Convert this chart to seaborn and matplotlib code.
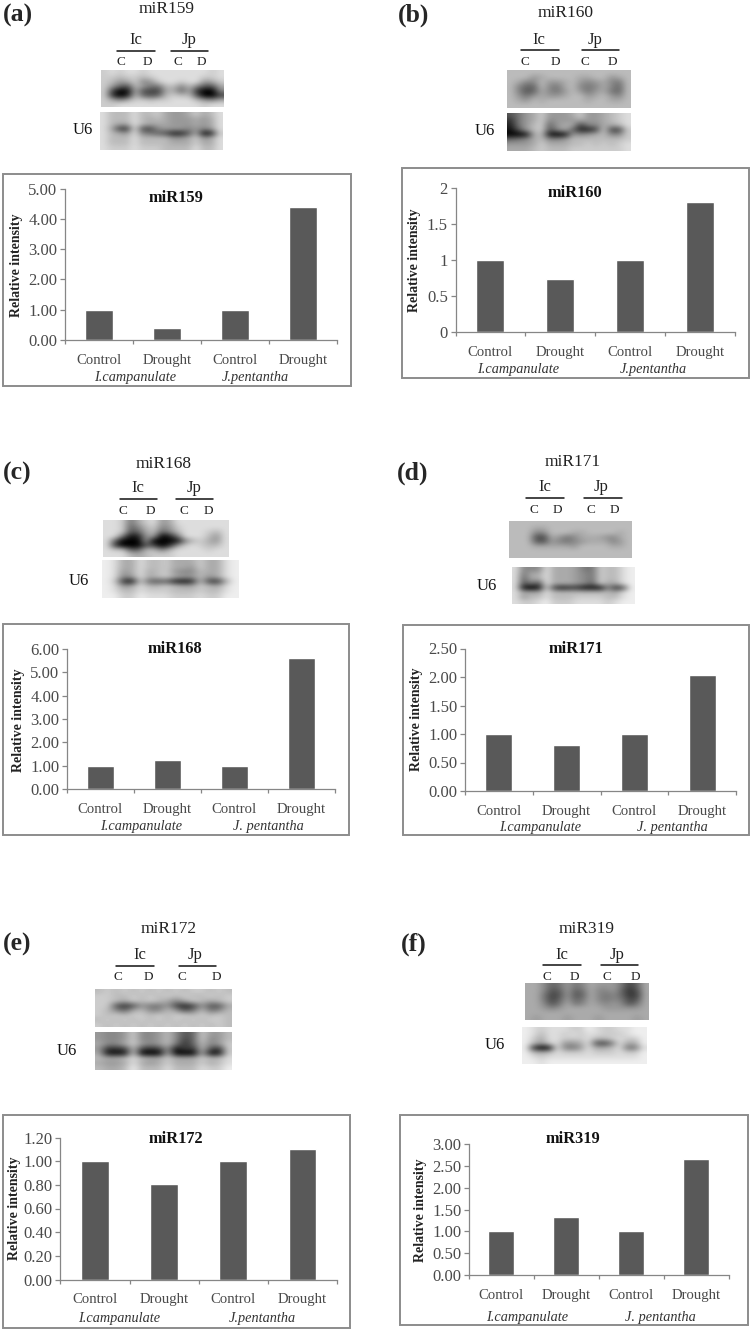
"""miRNA blots and relative intensity bars, six panels."""

import matplotlib

matplotlib.use("Agg")

import matplotlib.pyplot as plt
import numpy as np
import seaborn as sns
from matplotlib.patches import Rectangle

WIDTH, HEIGHT = 752, 1330

# chart data
CONDITIONS = ["Ic control", "Ic drought", "Jp control", "Jp drought"]
BAR_LABELS = ["Control", "Drought", "Control", "Drought"]
IC_SPECIES = "I.campanulate"
JP_TIGHT = "J.pentantha"
JP_SPACED = "J. pentantha"
MIRNAS = ["miR159", "miR160", "miR168", "miR171", "miR172", "miR319"]
LETTERS = ["(a)", "(b)", "(c)", "(d)", "(e)", "(f)"]

MIR159 = [1.00, 0.40, 1.00, 4.40]
MIR160 = [1.00, 0.74, 1.00, 1.80]
MIR168 = [1.00, 1.23, 1.00, 5.60]
MIR171 = [1.00, 0.80, 1.00, 2.03]
MIR172 = [1.00, 0.81, 1.00, 1.10]
MIR319 = [1.00, 1.32, 1.00, 2.66]

TICKS_A = [0, 1, 2, 3, 4, 5]
TICKS_B = [0, 0.5, 1, 1.5, 2]
TICKS_C = [0, 1, 2, 3, 4, 5, 6]
TICKS_D = [0, 0.5, 1, 1.5, 2, 2.5]
TICKS_E = [0, 0.2, 0.4, 0.6, 0.8, 1.0, 1.2]
TICKS_F = [0, 0.5, 1, 1.5, 2, 2.5, 3]

# blot darkness, one hex digit per cell (0 white, f black)
BLOT_A_TOP = [
    "3232232222222232",
    "3343343222222332",
    "3465376322322653",
    "369a468844747aa5",
    "3bfe5abb5595cff7",
    "3cfd49a94344affb",
    "3575334332224675",
    "3322222222222322",
]
BLOT_A_U6 = [
    "2444244356653542",
    "2444245456665652",
    "2455245556665652",
    "25bc2ab766676762",
    "24562789adda5ed3",
    "2444244446653652",
    "2444244445553552",
    "2333233344442442",
]
BLOT_B_TOP = [
    "4444444444444444",
    "4446544445544654",
    "4577466546765784",
    "4799478547875794",
    "47a9578646865894",
    "4686566544654674",
    "4564544444544554",
    "4444444444444444",
]
BLOT_B_U6 = [
    "a865366653665432",
    "c865376665665432",
    "d86439655b775542",
    "ea643a759ddb3bb3",
    "ffe54efe67654773",
    "9875477644444443",
    "6665355544343432",
    "5554344433333332",
]
BLOT_C_TOP = [
    "2238532652222222",
    "2239743763222222",
    "223a954974222342",
    "228ed66fd8222462",
    "29fff6fffe743562",
    "2bfffabfc6323442",
    "2339944742222322",
    "2224543332222222",
]
BLOT_C_U6 = [
    "1255244355535521",
    "1255244355635521",
    "1265254367745521",
    "1276254356646521",
    "13ce39a9ded4bc51",
    "1265244345534521",
    "1244233344434421",
    "1133122233323311",
]
BLOT_D_TOP = [
    "4444444444444444",
    "4445544444444444",
    "4447744455444454",
    "444ab56875556754",
    "4449a67876555764",
    "4445555564444554",
    "4444444444444444",
    "4444444444444444",
]
BLOT_D_U6 = [
    "2777255568834421",
    "2855255567834421",
    "2955255567834421",
    "2a8a255567935521",
    "2efe3bdcceee7ca1",
    "2555244444444521",
    "2644244433334421",
    "2332133322223211",
]
BLOT_E_TOP = [
    "4343434343433434",
    "3344343434344343",
    "3345343457534543",
    "33aca6886bdb6aa5",
    "3479547746a84874",
    "3434334343343434",
    "4343434343434334",
    "3434343434343434",
]
BLOT_E_U6 = [
    "6776377647a93664",
    "6776377647b93764",
    "5775367648c94763",
    "6ccb4bcb6ebc4ac3",
    "5eee3fff5fff5ee3",
    "4554245535553442",
    "5665256535553542",
    "4554144424442331",
]
BLOT_F_TOP = [
    "5579868756668b95",
    "557a969857769ca5",
    "558ba6a957879cb5",
    "558b969857878ba5",
    "557a858756767a85",
    "5567655555666665",
    "5555555555555555",
    "5655565556555565",
]
BLOT_F_U6 = [
    "1232223312332211",
    "1242232322333211",
    "1352233324432331",
    "146326652ab82551",
    "1cfe278625542882",
    "1454233323332331",
    "1232222222222221",
    "1121111111111111",
]

# panel layout in picture pixels
PANELS = [
    dict(values=MIR159, ticks=TICKS_A, decimals=2, frame=(3, 174, 351, 386),
         axes=(65, 188.7, 337, 340), letter=(3, 15), blot_title=(167, 9),
         chart_title=(176.5, 198), ylabel=(17, 265), species_y=377, species_x=(135.5, 255.5),
         jp_name=JP_TIGHT,
         ic=(136, 39.7), jp=(188.7, 39.7), ic_line=(117, 155), jp_line=(171, 208), line_y=50.7,
         cd_x=(120.7, 147.7, 178, 201.7), cd_y=62.3, u6=(82.7, 130),
         top=BLOT_A_TOP, top_box=(101, 70, 224, 107), u6_blot=BLOT_A_U6, u6_box=(100, 112, 223, 150)),
    dict(values=MIR160, ticks=TICKS_B, decimals=None, frame=(402, 168, 749, 378),
         axes=(455.5, 187.7, 735, 332), letter=(397.7, 15), blot_title=(565.7, 13),
         chart_title=(574.8, 192.7), ylabel=(414.7, 260.5), species_y=369, species_x=(517.7, 653),
         jp_name=JP_TIGHT,
         ic=(539.3, 39.7), jp=(595, 39.7), ic_line=(520.7, 558.7), jp_line=(581.7, 619), line_y=50.3,
         cd_x=(524.7, 555.3, 585.3, 612.7), cd_y=62, u6=(485.3, 131),
         top=BLOT_B_TOP, top_box=(507, 70, 631, 108), u6_blot=BLOT_B_U6, u6_box=(507, 113, 631, 151)),
    dict(values=MIR168, ticks=TICKS_C, decimals=2, frame=(3, 624, 349, 835),
         axes=(67, 649, 335, 789), letter=(3, 473), blot_title=(163.5, 464),
         chart_title=(175, 649), ylabel=(19, 720), species_y=826.7, species_x=(141.3, 268),
         jp_name=JP_SPACED,
         ic=(138.3, 488.3), jp=(194, 488.3), ic_line=(120, 157.3), jp_line=(176, 213.3), line_y=499.3,
         cd_x=(123.3, 150.7, 184, 208), cd_y=511, u6=(79.3, 580.7),
         top=BLOT_C_TOP, top_box=(103, 520, 228, 557), u6_blot=BLOT_C_U6, u6_box=(102, 560, 239, 598)),
    dict(values=MIR171, ticks=TICKS_D, decimals=2, frame=(403, 625, 749, 835),
         axes=(465, 648.5, 736, 791), letter=(397, 473), blot_title=(572.7, 461.7),
         chart_title=(576, 649), ylabel=(416.7, 719.5), species_y=828, species_x=(539.7, 672),
         jp_name=JP_SPACED,
         ic=(545, 487.3), jp=(601, 487.3), ic_line=(526.3, 563.7), jp_line=(584.3, 621.7), line_y=498,
         cd_x=(533.7, 557.3, 591, 614.7), cd_y=509.7, u6=(487.3, 585.7),
         top=BLOT_D_TOP, top_box=(509, 521, 632, 558), u6_blot=BLOT_D_U6, u6_box=(512, 567, 635, 604)),
    dict(values=MIR172, ticks=TICKS_E, decimals=2, frame=(3, 1115, 350, 1328),
         axes=(60.5, 1137.5, 337, 1279.5), letter=(3, 944), blot_title=(168.5, 929),
         chart_title=(176, 1139), ylabel=(15, 1208), species_y=1318.7, species_x=(119.3, 262),
         jp_name=JP_TIGHT,
         ic=(140, 954.7), jp=(195, 954.7), ic_line=(116.3, 154), jp_line=(178.7, 216), line_y=965.7,
         cd_x=(117.7, 148.3, 181.7, 216), cd_y=977.3, u6=(67, 1051.3),
         top=BLOT_E_TOP, top_box=(95, 989, 232, 1027), u6_blot=BLOT_E_U6, u6_box=(95, 1032, 232, 1070)),
    dict(values=MIR319, ticks=TICKS_F, decimals=2, frame=(400, 1115, 748, 1325),
         axes=(469, 1144, 728.5, 1275), letter=(401, 944), blot_title=(587, 929),
         chart_title=(573, 1138.7), ylabel=(420.7, 1210), species_y=1318, species_x=(527.5, 660),
         jp_name=JP_SPACED,
         ic=(562, 954.7), jp=(617.3, 954.7), ic_line=(543, 580.7), jp_line=(601, 638.3), line_y=965.3,
         cd_x=(546.7, 574, 607.3, 635), cd_y=977.3, u6=(495.3, 1045.3),
         top=BLOT_F_TOP, top_box=(525, 983, 649, 1020), u6_blot=BLOT_F_U6, u6_box=(522, 1027, 647, 1064)),
]

BAR_COLOR = "#595959"
AXIS_COLOR = "#868686"
FRAME_COLOR = "#8c8c8c"
TICK_TEXT = "#4a4a4a"


def box(x0, y0, x1, y1):
    return [x0 / WIDTH, 1 - y1 / HEIGHT, (x1 - x0) / WIDTH, (y1 - y0) / HEIGHT]


def put_text(fig, x, y, text, **kwargs):
    kwargs.setdefault("ha", "center")
    kwargs.setdefault("va", "center")
    fig.text(x / WIDTH, 1 - y / HEIGHT, text, **kwargs)


def draw_blot(fig, rows, rect):
    ax = fig.add_axes(box(*rect))
    cells = np.array([[int(c, 16) for c in row] for row in rows])
    ax.imshow(cells, cmap="gray_r", vmin=0, vmax=15, aspect="auto", interpolation="bicubic")
    ax.axis("off")


def draw_panel(fig, panel, name, letter):
    put_text(fig, *panel["letter"], letter, ha="left", fontsize=18.5, fontweight="bold")
    put_text(fig, *panel["blot_title"], name, fontsize=12.5, color="#222222")
    put_text(fig, *panel["ic"], "Ic", fontsize=12, color="#222222")
    put_text(fig, *panel["jp"], "Jp", fontsize=12, color="#222222")
    for span in (panel["ic_line"], panel["jp_line"]):
        fig.add_artist(plt.Line2D([span[0] / WIDTH, span[1] / WIDTH],
                                  [1 - panel["line_y"] / HEIGHT] * 2, color="#111111", lw=1.1))
    for x, lane in zip(panel["cd_x"], "CDCD"):
        put_text(fig, x, panel["cd_y"], lane, fontsize=9.5, color="#222222")
    put_text(fig, *panel["u6"], "U6", fontsize=12, color="#111111")
    draw_blot(fig, panel["top"], panel["top_box"])
    draw_blot(fig, panel["u6_blot"], panel["u6_box"])

    x0, y0, x1, y1 = panel["frame"]
    fig.add_artist(Rectangle((x0 / WIDTH, 1 - y1 / HEIGHT), (x1 - x0) / WIDTH, (y1 - y0) / HEIGHT,
                             transform=fig.transFigure, fill=False, edgecolor=FRAME_COLOR, lw=1.4))

    ax = fig.add_axes(box(*panel["axes"]))
    sns.barplot(x=CONDITIONS, y=panel["values"], color=BAR_COLOR, saturation=1, width=0.4, ax=ax)
    ax.set_xlim(-0.5, 3.5)
    ticks = panel["ticks"]
    ax.set_ylim(ticks[0], ticks[-1])
    ax.set_yticks(ticks)
    if panel["decimals"] is None:
        ax.set_yticklabels([f"{t:g}" for t in ticks])
    else:
        ax.set_yticklabels([f"{t:.{panel['decimals']}f}" for t in ticks])
    ax.set_xticks([-0.5, 0.5, 1.5, 2.5, 3.5])
    ax.set_xticklabels([])
    ax.set_xticks([0, 1, 2, 3], minor=True)
    ax.set_xticklabels(BAR_LABELS, minor=True)
    ax.set(xlabel="", ylabel="")
    ax.patch.set_alpha(0)
    sns.despine(ax=ax)
    for side in ("left", "bottom"):
        ax.spines[side].set_color(AXIS_COLOR)
        ax.spines[side].set_linewidth(0.9)
    ax.tick_params(axis="y", which="major", left=True, length=3.5, width=0.9, color=AXIS_COLOR,
                   labelsize=12, labelcolor=TICK_TEXT, pad=2)
    ax.tick_params(axis="x", which="major", bottom=True, length=3, width=0.9, color=AXIS_COLOR)
    ax.tick_params(axis="x", which="minor", bottom=False, length=0, labelsize=10.6,
                   labelcolor=TICK_TEXT, pad=10)

    put_text(fig, *panel["chart_title"], name, fontsize=11.8, fontweight="bold", color="#111111")
    put_text(fig, *panel["ylabel"], "Relative intensity", rotation=90, fontsize=10,
             fontweight="bold", color="#222222")
    species = (IC_SPECIES, panel["jp_name"])
    for x, label in zip(panel["species_x"], species):
        put_text(fig, x, panel["species_y"], label, fontsize=10.3, style="italic", color="#333333")


sns.set_theme(style="white")
plt.rcParams["font.family"] = ["Liberation Serif", "DejaVu Serif"]

fig = plt.figure(figsize=(WIDTH / 100, HEIGHT / 100), dpi=100, facecolor="white")
for panel, name, letter in zip(PANELS, MIRNAS, LETTERS):
    draw_panel(fig, panel, name, letter)
fig.savefig("out.png", dpi=100)
